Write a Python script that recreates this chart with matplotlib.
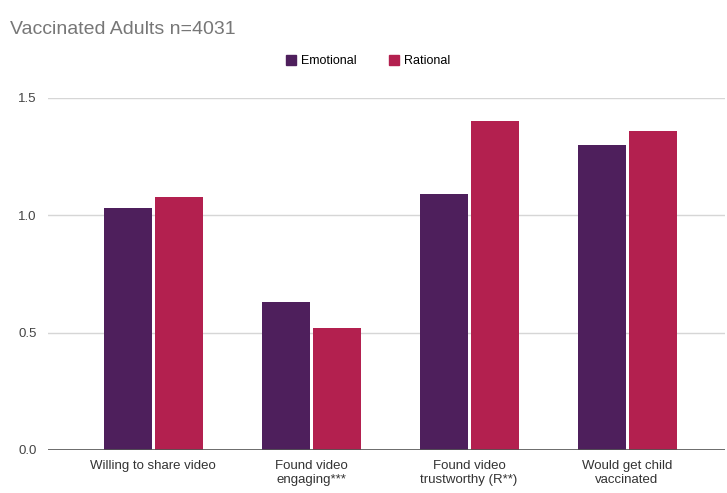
import matplotlib
matplotlib.use("Agg")
import matplotlib.pyplot as plt
import numpy as np
from matplotlib.patches import Patch

categories = ["Willing to share video", "Found video\nengaging***",
              "Found video\ntrustworthy (R**)", "Would get child\nvaccinated"]
emotional = [1.03, 0.63, 1.09, 1.30]
rational = [1.08, 0.52, 1.40, 1.36]
yticks = [0.0, 0.5, 1.0, 1.5]
ytick_labels = ["0.0", "0.5", "1.0", "1.5"]

c_emo = "#4e1f5c"
c_rat = "#b3204f"

plt.rcParams['font.family'] = ['Liberation Sans', 'DejaVu Sans']

fig = plt.figure(figsize=(7.27, 4.93), dpi=100)
ax = fig.add_axes([48/727, 1-450/493, (725-48)/727, (450-98)/493])

x = np.arange(len(categories))
w = 0.304
ax.bar(x - 0.16, emotional, width=w, color=c_emo, zorder=3)
ax.bar(x + 0.165, rational, width=w, color=c_rat, zorder=3)

ax.set_xlim(-0.665, 3.62)
ax.set_ylim(0, 1.5)
ax.set_yticks(yticks)
ax.set_yticklabels(ytick_labels, fontsize=9.5, color="#444444")
ax.set_xticks(x)
ax.set_xticklabels(categories, fontsize=9.5, color="#333333", linespacing=1.2)
ax.tick_params(axis='both', length=0)
ax.tick_params(axis='y', pad=8)
ax.tick_params(axis='x', pad=7)
for s in ax.spines.values():
    s.set_visible(False)
ax.grid(axis='y', color="#d6d6d6", linewidth=1.0, zorder=0)
ax.axhline(0, color="#555555", linewidth=1.2, zorder=4)

fig.text(10/727, 1-29/493, "Vaccinated Adults n=4031", fontsize=14,
         color="#777777", va='center', ha='left')

handles = [Patch(color=c_emo, label="Emotional"), Patch(color=c_rat, label="Rational")]
fig.legend(handles=handles, loc='center', bbox_to_anchor=(368/727, 1-61/493),
           ncol=2, frameon=False, fontsize=9, handlelength=0.8, handleheight=0.9,
           columnspacing=2.6, handletextpad=0.4)

fig.savefig("out.png", dpi=100)
